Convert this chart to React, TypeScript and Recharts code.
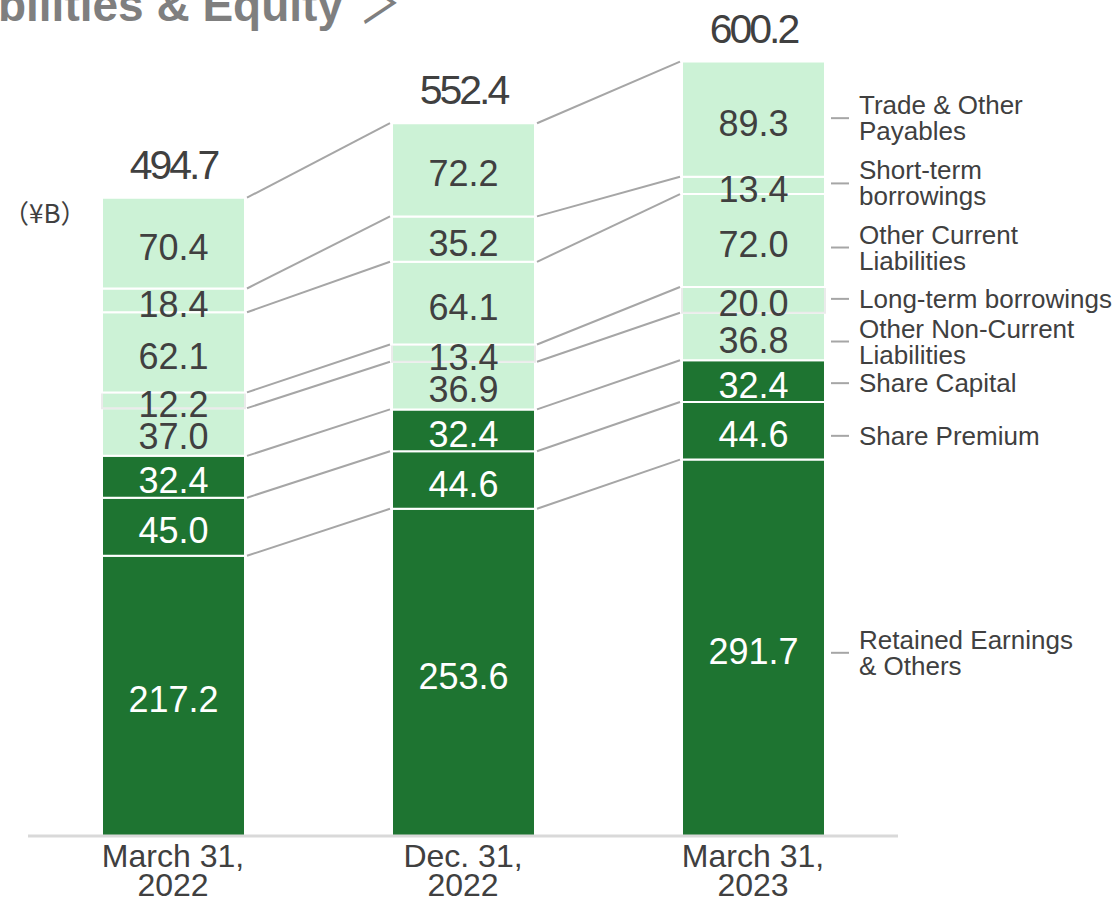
import React from 'react';
import { ComposedChart, Bar, XAxis, YAxis, LabelList } from 'recharts';

// ---- data (¥B), stacked bottom -> top ----
const categories = ['March 31, 2022', 'Dec. 31, 2022', 'March 31, 2023'];
const retainedEarnings = [217.2, 253.6, 291.7];
const sharePremium = [45.0, 44.6, 44.6];
const shareCapital = [32.4, 32.4, 32.4];
const otherNonCurrent = [37.0, 36.9, 36.8];
const longTermBorrowings = [12.2, 13.4, 20.0];
const otherCurrent = [62.1, 64.1, 72.0];
const shortTermBorrowings = [18.4, 35.2, 13.4];
const tradePayables = [70.4, 72.2, 89.3];
const totals = [494.7, 552.4, 600.2];

const DARK = '#1e7431';
const LIGHT = '#ccf2d6';
const TEXT = '#404040';
const LINE = '#a6a6a6';
const FONT = '"Liberation Sans", Arial, sans-serif';

const CHART_W = 1117;
const CHART_H = 900;
const MARGIN = { top: 36, right: 219, bottom: 4, left: 28 };
const STEP = (CHART_W - MARGIN.left - MARGIN.right) / categories.length;

// nudge = how far the right-hand label sits below its segment's middle
const series = [
    { key: 'retained', label: ['Retained Earnings', '& Others'], values: retainedEarnings, dark: true, nudge: 6 },
    { key: 'premium', label: ['Share Premium'], values: sharePremium, dark: true, nudge: 6 },
    { key: 'capital', label: ['Share Capital'], values: shareCapital, dark: true, nudge: 3 },
    { key: 'oncl', label: ['Other Non-Current', 'Liabilities'], values: otherNonCurrent, dark: false, nudge: 6 },
    { key: 'ltb', label: ['Long-term borrowings'], values: longTermBorrowings, dark: false, nudge: 0, edge: '#ebebeb' },
    { key: 'ocl', label: ['Other Current', 'Liabilities'], values: otherCurrent, dark: false, nudge: 8 },
    { key: 'stb', label: ['Short-term', 'borrowings'], values: shortTermBorrowings, dark: false, nudge: -1 },
    { key: 'top', label: ['Trade & Other', 'Payables'], values: tradePayables, dark: false, nudge: 0 },
];

const rows = categories.map((name, i) => {
    const row: Record<string, any> = { name };
    series.forEach((s) => (row[s.key] = s.values[i]));
    return row;
});

// cumulative top of each segment, per category
const cumulative = categories.map((_, i) => {
    let sum = 0;
    return series.map((s) => (sum += s.values[i]));
});

const CategoryTick = ({ x, y, payload }: any) => {
    const text: string = payload.value;
    const cut = text.indexOf(', ');
    return (
        <text x={x} y={y} textAnchor="middle" fontSize={32} fill={TEXT} fontFamily={FONT}>
            <tspan x={x} dy={31}>{text.slice(0, cut + 1)}</tspan>
            <tspan x={x} dy={29}>{text.slice(cut + 2)}</tspan>
        </text>
    );
};

const innerLabel = (dark: boolean) => (props: any) => {
    const { x, y, width, height, value } = props;
    return (
        <text
            x={x + width / 2}
            y={y + height / 2 + 4}
            textAnchor="middle"
            dominantBaseline="central"
            fontSize={36}
            fill={dark ? '#ffffff' : TEXT}
            fontFamily={FONT}
        >
            {Number(value).toFixed(1)}
        </text>
    );
};

// grey line from the top of this segment to the same boundary on the next bar
const connector = (k: number) => (props: any) => {
    const { x, y, width, height, index, value } = props;
    if (index >= categories.length - 1) return null;
    const ppu = height / value;
    const base = y + height + (cumulative[index][k] - value) * ppu;
    const nextY = base - cumulative[index + 1][k] * ppu;
    return <line x1={x + width + 2} y1={y} x2={x + STEP - 2} y2={nextY} stroke={LINE} strokeWidth={2} />;
};

const sideLabel = (lines: string[], nudge: number) => (props: any) => {
    const { x, y, width, height, index } = props;
    if (index !== categories.length - 1) return null;
    const cy = y + height / 2 + nudge;
    const left = x + width;
    return (
        <g>
            <line x1={left + 6} x2={left + 24} y1={cy - 1} y2={cy - 1} stroke={LINE} strokeWidth={2} />
            <text fontSize={26} fill={TEXT} fontFamily={FONT} dominantBaseline="central">
                {lines.map((t, k) => (
                    <tspan key={k} x={left + 34} y={cy - 1 + (k - (lines.length - 1) / 2) * 26}>
                        {t}
                    </tspan>
                ))}
            </text>
        </g>
    );
};

const totalLabel = (props: any) => {
    const { x, y, width, index } = props;
    return (
        <text
            x={x + width / 2}
            y={y - 33}
            textAnchor="middle"
            dominantBaseline="central"
            fontSize={41}
            letterSpacing={-3}
            fill={TEXT}
            fontFamily={FONT}
        >
            {totals[index].toFixed(1)}
        </text>
    );
};

export default function App() {
    return (
        <div style={{ position: 'absolute', left: 0, top: 0, width: CHART_W, height: CHART_H, overflow: 'hidden', background: '#fff' }}>
            <div
                style={{
                    position: 'absolute',
                    right: CHART_W - 343,
                    top: -18,
                    fontSize: 46,
                    lineHeight: '46px',
                    fontWeight: 'bold',
                    color: '#7f7f7f',
                    whiteSpace: 'nowrap',
                    fontFamily: FONT,
                }}
            >
                ＜Liabilities &amp; Equity
            </div>
            <div
                style={{
                    position: 'absolute',
                    left: 359,
                    top: -21,
                    fontSize: 42,
                    lineHeight: '42px',
                    color: '#7f7f7f',
                    whiteSpace: 'nowrap',
                    transform: 'scaleY(1.3)',
                    transformOrigin: '50% 50%',
                    fontFamily: '"Noto Sans CJK JP", sans-serif',
                }}
            >
                ＞
            </div>
            <div
                style={{
                    position: 'absolute',
                    left: 3,
                    top: 198,
                    fontSize: 26,
                    lineHeight: '28px',
                    color: TEXT,
                    whiteSpace: 'nowrap',
                    fontFamily: '"Noto Sans CJK JP", ' + FONT,
                }}
            >
                （¥B）
            </div>
            <ComposedChart
                width={CHART_W}
                height={CHART_H}
                data={rows}
                margin={MARGIN}
                style={{ position: 'absolute', left: 0, top: 0 }}
            >
                <XAxis
                    dataKey="name"
                    height={60}
                    tickLine={false}
                    tickSize={0}
                    tickMargin={0}
                    axisLine={{ stroke: '#d9d9d9', strokeWidth: 3 }}
                    tick={<CategoryTick />}
                    interval={0}
                />
                <YAxis domain={[0, 620]} hide />
                {series.map((s, k) => (
                    <Bar
                        key={s.key}
                        dataKey={s.key}
                        stackId="bs"
                        barSize={143}
                        fill={s.dark ? DARK : LIGHT}
                        stroke={s.edge ?? '#ffffff'}
                        strokeWidth={2}
                        isAnimationActive={false}
                    >
                        <LabelList dataKey={s.key} content={connector(k)} />
                        <LabelList dataKey={s.key} content={innerLabel(s.dark)} />
                        <LabelList dataKey={s.key} content={sideLabel(s.label, s.nudge)} />
                        {k === series.length - 1 && <LabelList dataKey={s.key} content={totalLabel} />}
                    </Bar>
                ))}
            </ComposedChart>
        </div>
    );
}
